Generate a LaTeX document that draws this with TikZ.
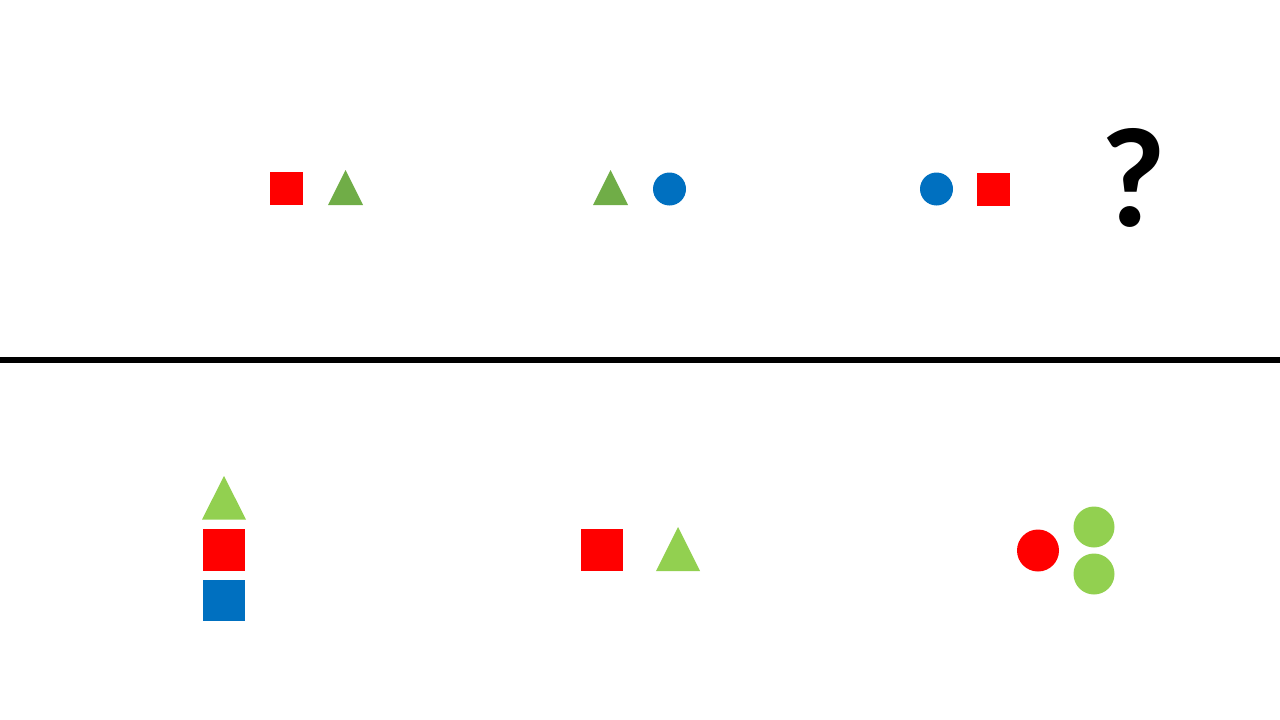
\documentclass[tikz,border=0pt]{standalone}
\usepackage{fontspec}
\newfontfamily\qfont{Carlito}
\definecolor{cred}{HTML}{FF0000}
\definecolor{cblue}{HTML}{0070C0}
\definecolor{cdgreen}{HTML}{70AD47}
\definecolor{clgreen}{HTML}{92D050}
\tikzset{
  divider/.style={draw=black, line width=5.5pt},
  qmark/.style={font=\qfont\bfseries\fontsize{142}{142}\selectfont, inner sep=0pt, anchor=base},
}

\begin{document}
\begin{tikzpicture}[x=1pt, y=-1pt]
  \useasboundingbox (0,0) rectangle (1280,720);
  % shapes: square (x0,y0,x1,y1), triangle (left,right,top,bottom)
  \newcommand{\sq}[5]{\fill[#1] (#2,#3) rectangle (#4,#5);}
  \newcommand{\tri}[5]{\fill[#1] (#2,#5) -- ({(#2+#3)/2},#4) -- (#3,#5) -- cycle;}
  % top row
  \sq{cred}{270}{172}{303}{205}
  \tri{cdgreen}{328}{363}{170}{205}
  \tri{cdgreen}{593}{628}{170}{205}
  \fill[cblue] (669.5,189) circle (16.5);
  \fill[cblue] (936.5,189) circle (16.5);
  \sq{cred}{977}{173}{1010}{206}
  \node[qmark] (ask) at (1133,226) {?};
  % divider
  \coordinate (left) at (0,360);
  \coordinate (right) at (1280,360);
  \draw[divider] (left) -- (right);
  % bottom row
  \tri{clgreen}{202}{246}{476}{519.5}
  \sq{cred}{203}{529}{245}{571}
  \sq{cblue}{203}{580}{245}{621}
  \sq{cred}{581}{529}{623}{571}
  \tri{clgreen}{656}{700}{527}{571}
  \fill[cred] (1038,550.5) circle (21);
  \fill[clgreen] (1094,527) circle (20.5);
  \fill[clgreen] (1094,574) circle (20.5);
\end{tikzpicture}
\end{document}
